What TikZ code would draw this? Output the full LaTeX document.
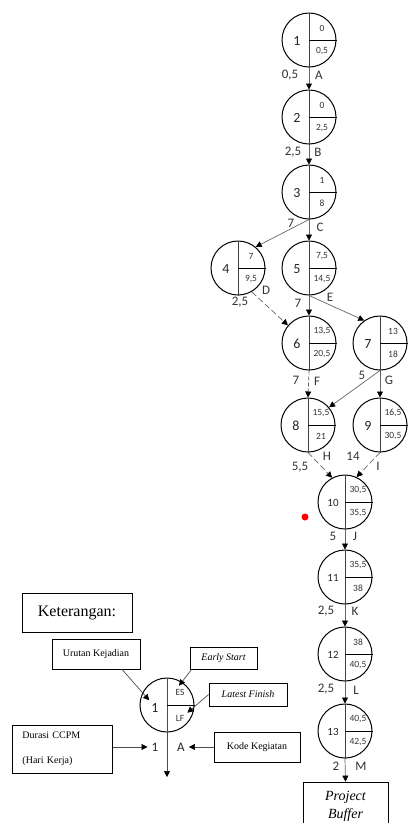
\documentclass[tikz,border=0pt]{standalone}
\usepackage{fontspec}
\setmainfont{Liberation Serif}
\newfontfamily\carl{Carlito}
\usetikzlibrary{arrows.meta}
\tikzset{
 ev/.style={circle,draw=black,line width=1pt,minimum size=54pt,inner sep=0pt},
 vdiv/.style={draw=black!75,line width=0.8pt},
 hdiv/.style={draw=black,line width=0.8pt},
 con/.style={draw=black!60,line width=0.7pt,-{Triangle[black,length=6pt,width=6pt]}},
 lcon/.style={draw=black!70,line width=0.7pt,-{Triangle[black,length=6pt,width=6pt]}},
 dashcon/.style={con,dash pattern=on 6pt off 3pt},
 sdashcon/.style={con,dash pattern=on 4pt off 2pt},
 lbl/.style={font=\carl\fontsize{13}{13}\selectfont,text=black!80,inner sep=0pt},
 numbig/.style={font=\carl\fontsize{14}{14}\selectfont,text=black!85,inner sep=0pt},
 numsmall/.style={font=\carl\fontsize{11}{11}\selectfont,text=black!85,inner sep=0pt},
 qtxt/.style={font=\carl\fontsize{9.5}{9.5}\selectfont,text=black!80,inner sep=0pt},
 boxn/.style={draw=black,line width=0.8pt,rectangle,inner sep=0pt,font=\fontsize{10}{12}\selectfont},
}
\newcommand{\evnode}[7]{%
 \node[ev] (#1) at (#2,#3) {};
 \draw[vdiv] (#1.north) -- (#1.south);
 \draw[hdiv] (#1.center) -- (#1.east);
 \node[#7] (#1-num) at ([shift={(-12,1)}]#1.center) {#4};
 \node[qtxt] (#1-es) at ([shift={(13,-12)}]#1.center) {#5};
 \node[qtxt] (#1-lf) at ([shift={(13,11)}]#1.center) {#6};
}
\begin{document}
\begin{tikzpicture}[x=1pt,y=-1pt]
\useasboundingbox (0,0) rectangle (414,823);
% events
\evnode{n1}{309}{40}{1}{0}{0,5}{numbig}
\evnode{n2}{309}{117}{2}{0}{2,5}{numbig}
\evnode{n3}{309}{192}{3}{1}{8}{numbig}
\evnode{n4}{238}{268}{4}{7}{9,5}{numbig}
\evnode{n5}{309}{268}{5}{7,5}{14,5}{numbig}
\evnode{n6}{309}{343}{6}{13,5}{20,5}{numbig}
\evnode{n7}{380}{343}{7}{13}{18}{numbig}
\evnode{n8}{308}{425}{8}{15,5}{21}{numbig}
\evnode{n9}{380}{425}{9}{16,5}{30,5}{numbig}
\evnode{n10}{345}{502}{10}{30,5}{35,5}{numsmall}
\evnode{n11}{345}{577}{11}{35,5}{38}{numsmall}
\evnode{n12}{345}{654}{12}{38}{40,5}{numsmall}
\evnode{n13}{345}{731}{13}{40,5}{42,5}{numsmall}
\node[draw=black,line width=0.8pt,minimum width=85pt,minimum height=48pt,inner sep=0pt,align=center,
 font=\itshape\fontsize{14}{18}\selectfont] (buf) at (345.5,806) {Project\\Buffer};
% connectors
\draw[con] (n1.south) -- (n2.north);
\draw[con] (n2.south) -- (n3.north);
\draw[con] (n3.south) -- (n4.50);
\draw[con] (n3.south) -- (n5.north);
\draw[dashcon] (n4.-60) -- (n6.140);
\draw[con] (n5.south) -- (n6.north);
\draw[con] (n5.south) -- (n7.125);
\draw[sdashcon] (n6.south) -- (n8.north);
\draw[con] (n7.south) -- (n8.40);
\draw[con] (n7.south) -- (n9.north);
\draw[dashcon] (n8.south) -- (n10.118);
\draw[dashcon] (n9.south) -- (n10.65);
\draw[con] (n10.south) -- (n11.north);
\draw[con] (n11.south) -- (n12.north);
\draw[con] (n12.south) -- (n13.north);
\draw[con] (n13.south) -- (buf.north);
% activity labels
\node[lbl] at (290,75) {0,5}; \node[lbl] at (319,75) {A};
\node[lbl] at (293,152) {2,5}; \node[lbl] at (318,152) {B};
\node[lbl] at (291,223) {7}; \node[lbl] at (320,227) {C};
\node[lbl] at (266,290) {D}; \node[lbl] at (240,302) {2,5};
\node[lbl] at (298,303) {7}; \node[lbl] at (330,297) {E};
\node[lbl] at (296,380) {7}; \node[lbl] at (317,381) {F};
\node[lbl] at (362,375) {5}; \node[lbl] at (389,380) {G};
\node[lbl] at (327,456) {H}; \node[lbl] at (300,467) {5,5};
\node[lbl] at (353,456) {14}; \node[lbl] at (378,466) {I};
\node[lbl] at (333,536) {5}; \node[lbl] at (355,536) {J};
\node[lbl] at (326,611) {2,5}; \node[lbl] at (355,611) {K};
\node[lbl] at (326,689) {2,5}; \node[lbl] at (356,690) {L};
\node[lbl] at (336,766) {2}; \node[lbl] at (361,766) {M};
% red dot
\fill[red] (305,517) circle (3.5pt);
% legend
\node[boxn,minimum width=110pt,minimum height=39pt,font=\fontsize{16}{16}\selectfont] (ket) at (77,612.5) {Keterangan:};
\node[boxn,minimum width=88pt,minimum height=30pt] (uk) at (96,654) {Urutan Kejadian};
\node[boxn,minimum width=67pt,minimum height=22pt,font=\itshape\fontsize{10}{12}\selectfont] (es) at (223.5,658) {Early Start};
\node[boxn,minimum width=78pt,minimum height=23pt,font=\itshape\fontsize{10}{12}\selectfont] (lfin) at (248,694.5) {Latest Finish};
\node[boxn,minimum width=99pt,minimum height=48pt,align=left,text width=80pt,inner xsep=10pt,font=\fontsize{10}{25}\selectfont] (dur) at (62.5,749) {Durasi CCPM\\(Hari Kerja)};
\node[boxn,minimum width=86pt,minimum height=30pt] (kode) at (257,747) {Kode Kegiatan};
\node[ev] (nl) at (167,705) {};
\coordinate (lend) at (167,777);
\draw[lcon] (nl.north) -- (lend);
\draw[hdiv] (nl.center) -- (nl.east);
\node[numbig] (l1) at (155,708) {1};
\node[qtxt] (les) at (180,692) {ES};
\node[qtxt] (llf) at (180,718) {LF};
\node[lbl,text=black!85] (ld) at (155,747) {1};
\node[lbl,text=black!85] (la) at (181,747) {A};
\draw[lcon] ([xshift=26pt]uk.south) -- ([shift={(-2,-3)}]l1.north west);
\draw[lcon] ([xshift=2pt]es.south west) -- ([shift={(-1,-3)}]les.north);
\draw[lcon] (lfin.west) -- ([shift={(3,-2)}]llf.north east);
\draw[lcon] (dur.east |- ld.west) -- ([xshift=-4pt]ld.west);
\draw[lcon] (kode.west) -- ([xshift=4pt]la.east);
\end{tikzpicture}
\end{document}
